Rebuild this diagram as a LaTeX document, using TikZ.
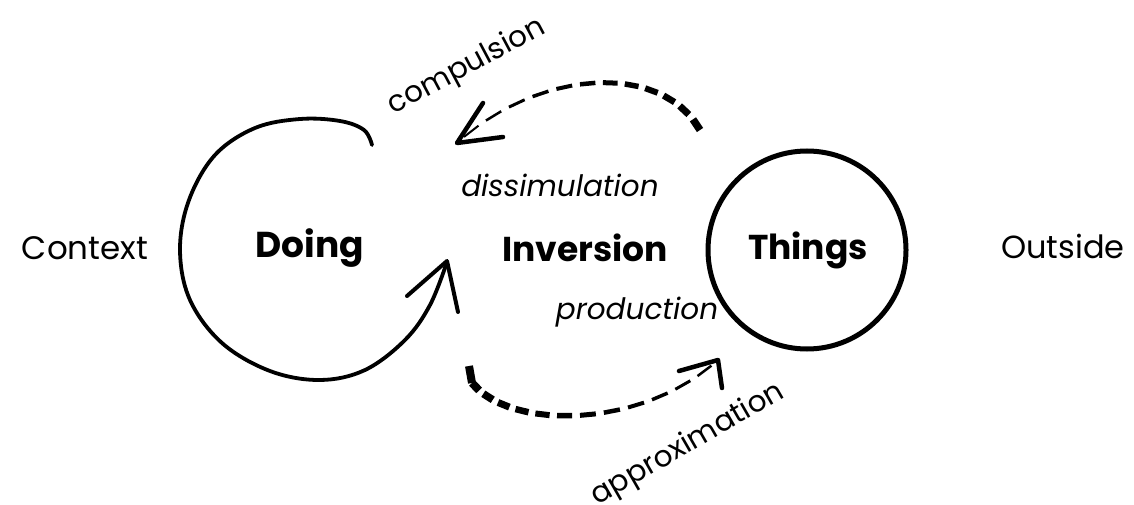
\documentclass[tikz,border=0pt]{standalone}
\usepackage{fontspec}
\setmainfont{Poppins}
\usetikzlibrary{calc}
\begin{document}
\begin{tikzpicture}[x=1pt,y=-1pt,
  plain/.style={font=\fontsize{#1}{36}\selectfont, inner sep=0pt},
  bigbold/.style={font=\fontsize{#1}{40}\selectfont\bfseries, inner sep=0pt},
  slanted/.style={font=\fontsize{29.5}{34}\selectfont\itshape, inner sep=0pt},
  stroke/.style={line width=#1, line cap=round, line join=round},
  dashseg/.style={line width=#1, line cap=butt}]
\useasboundingbox[fill=white] (0,0) rectangle (1134,505);

% labels
\node[plain=32.5] (context) at (85,248) {Context};
\node[plain=32] (outside) at (1063,246) {Outside};
\node[bigbold=36] (doing) at (310,248) {Doing};
\node[bigbold=34.5] (inversion) at (585,248) {Inversion};
\node[bigbold=34.5] (things) at (808,250) {Things};
\node[slanted] (dissim) at (560,185) {dissimulation};
\node[slanted] (prod) at (637,312) {production};
\node[plain=29.5, rotate=28] (compul) at (467,67) {compulsion};
\node[plain=29.5, rotate=30] (approx) at (688,445) {approximation};

% Things circle
\draw[line width=5pt] (807,250) circle[radius=99];

% Doing open circle with arrow
\draw[stroke=3.8pt] plot[smooth, tension=0.6] coordinates {
  (372,145) (364,130) (340,121) (300,119) (255,128) (215,155) (189,200)
  (180,250) (190,300) (222,343) (270,371) (320,380) (365,370) (405,340) (430,305) (447,262)};
\draw[stroke=4pt] (407,296) -- (447,261) -- (458,312);
\coordinate (dtip) at (447,261);

% top dashed arrow (from Things to Doing)
\coordinate (ta) at (700,130);
\coordinate (tb) at (457,143);
\path (ta) .. controls (662,62) and (540,68) .. (tb)
  foreach \i [evaluate=\i as \t using \i/36] in {0,...,36} {coordinate[pos=\t] (pa\i)};
\foreach \i [evaluate=\i as \j using int(\i+2), evaluate=\i as \w using 7.5-5.5*\i/33] in {0,3,...,33}
  {\draw[dashseg=\w pt] (pa\i) -- (pa\j);}
\draw[stroke=4.5pt] (483,103) -- (tb) -- (503,137);

% bottom dashed arrow (from Doing to Things)
\coordinate (ba) at (472,383);
\coordinate (bb) at (718,360);
\draw[line width=8pt, line cap=butt] (469,366) -- (472,383);
\path (ba) .. controls (510,430) and (640,430) .. (bb)
  foreach \i [evaluate=\i as \t using \i/36] in {0,...,36} {coordinate[pos=\t] (pb\i)};
\foreach \i [evaluate=\i as \j using int(\i+2), evaluate=\i as \w using 8-5.5*\i/33] in {0,3,...,33}
  {\draw[dashseg=\w pt] (pb\i) -- (pb\j);}
\draw[stroke=4.5pt] (679,371) -- (bb) -- (722,388);
\end{tikzpicture}
\end{document}
